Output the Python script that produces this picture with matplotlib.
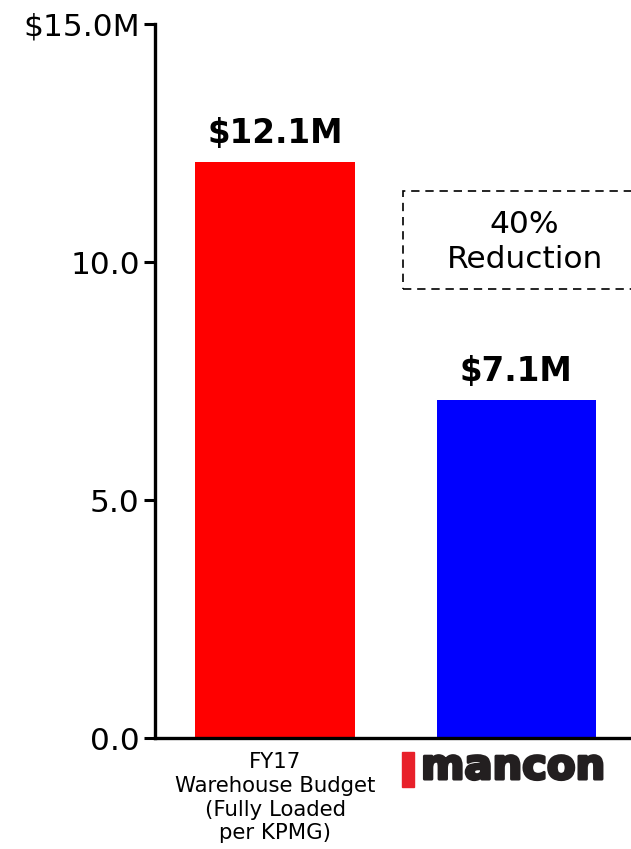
import matplotlib
matplotlib.use("Agg")
import matplotlib.pyplot as plt
import matplotlib.patheffects as pe
from matplotlib.patches import Rectangle

# ==========================================================
# DATOS
# ==========================================================
categories = ["FY17\nWarehouse Budget\n(Fully Loaded\nper KPMG)", "mancon"]
values = [12.1, 7.1]
bar_labels = ["$12.1M", "$7.1M"]
bar_colors = ["#ff0000", "#0000ff"]
ytick_vals = [0.0, 5.0, 10.0, 15.0]
ytick_labels = ["0.0", "5.0", "10.0", "$15.0M"]
note_text = "40%\nReduction"

plt.rcParams["font.family"] = ["DejaVu Sans"]

fig = plt.figure(figsize=(6.31, 8.49), dpi=100)
ax = fig.add_axes([155 / 631, 1 - 738 / 849, 1 - 155 / 631, (738 - 24) / 849])

x = list(range(len(values)))
ax.bar(x, values, width=0.66, color=bar_colors, zorder=2)

for xi, v, lab in zip(x, values, bar_labels):
    ax.annotate(lab, (xi, v), xytext=(0, 9), textcoords="offset points",
                ha="center", va="bottom", fontsize=23.5, fontweight="bold")

ax.set_xlim(-0.498, 1.477)
ax.set_ylim(0, 15)
ax.set_yticks(ytick_vals)
ax.set_yticklabels(ytick_labels, fontsize=22.5)
ax.set_xticks([0])
ax.set_xticklabels([categories[0]], fontsize=15.3, linespacing=1.24)
ax.tick_params(axis="y", length=8, width=2.2, pad=3)
ax.tick_params(axis="x", length=0, pad=10)

for side in ["top", "right"]:
    ax.spines[side].set_visible(False)
for side in ["left", "bottom"]:
    ax.spines[side].set_linewidth(2.4)

# caja de reducción punteada
box = Rectangle((0.531, 9.43), 1.0, 2.06, fill=False, linestyle=(0, (5, 3.5)),
                linewidth=1.2, edgecolor="black", clip_on=False)
ax.add_patch(box)
ax.text(1.036, 10.42, note_text, ha="center", va="center", fontsize=22.5,
        linespacing=1.3)

# logo mancon
fig.patches.append(Rectangle((402 / 631, 1 - 787 / 849), 12 / 631, 35 / 849,
                             transform=fig.transFigure, color="#e8202a",
                             figure=fig))
fig.text(421 / 631, 1 - 779 / 849, categories[1], fontsize=30,
         fontweight="bold", color="#231f20", ha="left", va="baseline",
         path_effects=[pe.withStroke(linewidth=2.2, foreground="#231f20")])

fig.savefig("out.png", dpi=100)
